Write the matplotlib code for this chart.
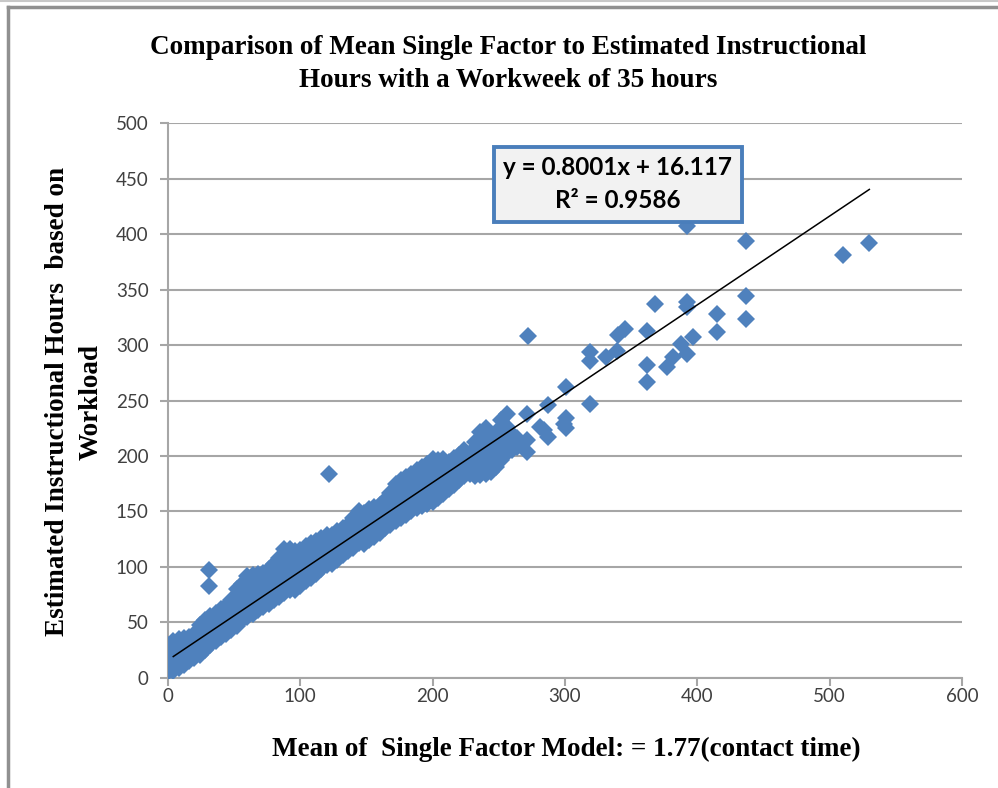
import numpy as np
import matplotlib.pyplot as plt
from matplotlib.lines import Line2D

# dense band (x, then y values)
dense_x = [0]*5 + [2]*4 + [4]*5 + [8]*5 + [12]*5 + [16]*5 + [20]*5 + [24]*5 + [28]*5 \
    + [32]*5 + [36]*5 + [40]*5 + [44]*5 + [48]*5 + [52]*6 + [56]*6 + [60]*6 + [64]*6 \
    + [68]*6 + [72]*6 + [76]*6 + [80]*6 + [84]*6 + [88]*7 + [92]*7 + [96]*6 + [100]*6 \
    + [104]*6 + [108]*6 + [112]*5 + [116]*5 + [120]*5 + [124]*5 + [128]*5 + [132]*5 \
    + [136]*5 + [140]*5 + [144]*5 + [148]*5 + [152]*5 + [156]*5 + [160]*5 + [164]*5 \
    + [168]*5 + [172]*6 + [176]*6 + [180]*6 + [184]*6 + [188]*6 + [192]*6 + [196]*6 \
    + [200]*6 + [204]*6 + [208]*6 + [212]*5 + [216]*5 + [220]*5 + [224]*5 + [228]*4 \
    + [232]*5 + [236]*6 + [240]*6 + [244]*5 + [248]*5 + [252]*5 + [256]*5 + [260]*3 + [264]*2
dense_y = [5, 11, 18, 24, 30,
           8, 14, 21, 28,
           6, 13, 20, 27, 33,
           9, 15, 22, 29, 35,
           12, 18, 25, 31, 36,
           15, 21, 28, 34, 37,
           18, 24, 31, 37, 40,
           21, 28, 35, 42, 48,
           25, 31, 38, 45, 52,
           30, 36, 43, 50, 56,
           33, 40, 47, 53, 59,
           37, 43, 50, 56, 62,
           40, 47, 54, 60, 65,
           43, 50, 57, 64, 70,
           47, 54, 61, 68, 74, 80,
           52, 58, 65, 72, 79, 85,
           55, 62, 69, 76, 84, 92,
           58, 65, 72, 79, 86, 93,
           61, 68, 75, 82, 88, 94,
           64, 71, 78, 85, 91, 95,
           67, 74, 81, 88, 94, 98,
           70, 77, 84, 91, 97, 103,
           73, 80, 87, 94, 101, 108,
           77, 84, 91, 98, 105, 111, 116,
           79, 86, 93, 100, 107, 113, 116,
           79, 86, 93, 100, 107, 114,
           83, 90, 97, 104, 110, 115,
           87, 94, 101, 108, 114, 119,
           90, 97, 104, 111, 117, 122,
           94, 101, 108, 115, 123,
           98, 105, 112, 119, 126,
           102, 109, 116, 123, 129,
           103, 110, 117, 124, 129,
           106, 113, 120, 127, 132,
           111, 118, 125, 131, 135,
           114, 121, 128, 134, 138,
           117, 124, 131, 138, 144,
           122, 129, 136, 143, 150,
           121, 128, 135, 142, 149,
           124, 131, 138, 145, 152,
           127, 134, 141, 148, 154,
           131, 138, 145, 151, 156,
           135, 142, 149, 155, 160,
           138, 145, 152, 159, 167,
           141, 148, 155, 162, 169, 175,
           144, 151, 158, 165, 172, 178,
           147, 154, 161, 168, 175, 181,
           150, 157, 164, 171, 178, 184,
           153, 160, 167, 174, 181, 187,
           155, 162, 169, 176, 183, 190,
           157, 164, 171, 178, 185, 193,
           159, 166, 173, 180, 188, 197,
           162, 169, 176, 184, 191, 196,
           166, 173, 180, 187, 193, 197,
           170, 177, 183, 190, 195,
           174, 180, 186, 192, 198,
           178, 183, 189, 195, 201,
           182, 188, 194, 200, 205,
           184, 190, 197, 203,
           182, 189, 196, 205, 213,
           183, 190, 198, 207, 216, 222,
           184, 192, 200, 208, 217, 225,
           186, 194, 203, 212, 220,
           190, 198, 207, 215, 222,
           196, 204, 213, 222, 232,
           203, 210, 218, 226, 238,
           205, 212, 220,
           208, 216]

# scattered points above the band and outliers
sparse_x = [272, 392, 437, 510, 530, 368, 392, 392, 437, 437, 415, 415, 345, 340,
            362, 319, 319, 331, 339, 362, 362, 377, 382, 392, 397, 388, 301, 319,
            287, 271, 301, 301, 281, 287, 271, 271, 284, 299, 122, 31, 31]
sparse_y = [308, 407, 394, 381, 392, 337, 339, 334, 344, 323, 328, 312, 314, 309,
            313, 294, 286, 289, 295, 282, 267, 280, 289, 292, 307, 301, 262, 247,
            246, 238, 234, 225, 226, 217, 214, 204, 223, 229, 184, 97, 83]

# trendline as reported on the chart
slope = 0.8001
intercept = 16.117
r_squared = 0.9586

x_all = np.array(dense_x + sparse_x, dtype=float)
y_all = np.array(dense_y + sparse_y, dtype=float)

fig = plt.figure(figsize=(9.98, 7.88), dpi=100)
ax = fig.add_axes([0.1683, 0.1396, 0.7956, 0.7043])

ax.plot(x_all, y_all, linestyle='none', marker='D', markersize=9.3,
        color='#4f81bd', markeredgewidth=0, zorder=3)

tx = np.array([x_all.min() + 4, x_all.max()])
ax.plot(tx, slope * tx + intercept, color='black', linewidth=1.1, zorder=4)

ax.set_xlim(0, 600)
ax.set_ylim(0, 500)
ax.set_xticks(range(0, 601, 100))
ax.set_yticks(range(0, 501, 50))
ax.grid(axis='y', color='#a6a6a6', linewidth=1.5, zorder=0)
ax.set_axisbelow(True)
for s in ['top', 'right']:
    ax.spines[s].set_visible(False)
for s in ['left', 'bottom']:
    ax.spines[s].set_color('#a6a6a6')
    ax.spines[s].set_linewidth(1.5)
ax.tick_params(colors='#a6a6a6', width=1.5, length=6, labelcolor='#404040',
               labelsize=13.5)
ax.tick_params(axis='x', pad=1)
ax.tick_params(axis='y', pad=8)
for lab in ax.get_xticklabels() + ax.get_yticklabels():
    lab.set_family('Lato')

eq = 'y = 0.8001x + 16.117\nR\u00b2 = %.4f' % r_squared
ax.text(340, 445, eq, ha='center', va='center', fontsize=17.5, fontweight='bold',
        family='Lato', linespacing=1.5, zorder=6,
        bbox=dict(boxstyle='square,pad=0.4', facecolor='#f2f2f2',
                  edgecolor='#4a7ebb', linewidth=2.8))

fig.text(0.509, 1 - 64/788, 'Comparison of Mean Single Factor to Estimated Instructional\n'
         'Hours with a Workweek of 35 hours', ha='center', va='center',
         fontsize=19.5, fontweight='bold', family='Liberation Serif', linespacing=1.45)
fig.text(0.567, 1 - 749/788, 'Mean of  Single Factor Model: = 1.77(contact time)',
         ha='center', va='center', fontsize=19.5, fontweight='bold', family='Liberation Serif')
fig.text(74/998, 1 - 402/788, 'Estimated Instructional Hours  based on\nWorkload',
         ha='center', va='center', rotation=90, fontsize=19.5, fontweight='bold',
         family='Liberation Serif', linespacing=1.45)

# frame lines of the original screenshot
fig.add_artist(Line2D([8/998, 1], [1 - 7/788, 1 - 7/788], color='#909090', linewidth=2.5))
fig.add_artist(Line2D([8/998, 8/998], [0, 1 - 7/788], color='#909090', linewidth=2.5))
fig.add_artist(Line2D([0, 1], [1 - 1/788, 1 - 1/788], color='#c8c8c8', linewidth=1.5))

fig.savefig('out.png', dpi=100)
